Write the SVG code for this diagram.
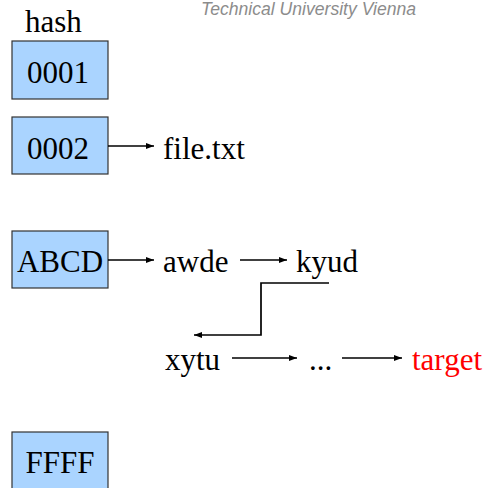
<svg xmlns="http://www.w3.org/2000/svg" width="488" height="488" viewBox="0 0 488 488">
  <defs>
    <marker id="arrow" viewBox="0 0 8 6" refX="8" refY="3" markerWidth="8" markerHeight="6" markerUnits="userSpaceOnUse" orient="auto">
      <path d="M0,0 L8,3 L0,6 Z" fill="#000"/>
    </marker>
    <style>
      .box { fill: #aad4ff; stroke: #333; stroke-width: 1.2; }
      .lbl { font-family: "Liberation Serif", "Times New Roman", serif; font-size: 31px; fill: #000; }
      .conn { fill: none; stroke: #000; stroke-width: 1.7; marker-end: url(#arrow); }
      .header { font-family: "Liberation Sans", Arial, sans-serif; font-style: italic; font-size: 17.6px; fill: #8c8c8c; }
    </style>
  </defs>

  <rect width="488" height="488" fill="#fff"/>

  <text class="header" x="201" y="15">Technical University Vienna</text>
  <text class="lbl" x="25" y="31.5">hash</text>

  <!-- hash buckets -->
  <g id="bucket-0001">
    <rect class="box" x="12" y="41" width="96" height="58"/>
    <text class="lbl" x="58" y="83" text-anchor="middle">0001</text>
  </g>
  <g id="bucket-0002">
    <rect class="box" x="12" y="117" width="96" height="57"/>
    <text class="lbl" x="58" y="159" text-anchor="middle">0002</text>
  </g>
  <g id="bucket-abcd">
    <rect class="box" x="12" y="231" width="96" height="57"/>
    <text class="lbl" x="60" y="271.5" text-anchor="middle">ABCD</text>
  </g>
  <g id="bucket-ffff">
    <rect class="box" x="12" y="432" width="96" height="60"/>
    <text class="lbl" x="60" y="473" text-anchor="middle">FFFF</text>
  </g>

  <!-- chain entries -->
  <g id="file-txt"><text class="lbl" x="163" y="159">file.txt</text></g>
  <g id="awde"><text class="lbl" x="163" y="271.5">awde</text></g>
  <g id="kyud"><text class="lbl" x="296" y="271.5">kyud</text></g>
  <g id="xytu"><text class="lbl" x="165" y="370">xytu</text></g>
  <g id="ellipsis"><text class="lbl" x="309" y="370">...</text></g>
  <g id="target"><text class="lbl" x="412" y="370" style="fill:#ff0000">target</text></g>

  <!-- connectors -->
  <g id="connectors">
    <path class="conn" d="M108,146 H154"/>
    <path class="conn" d="M108,260 H154"/>
    <path class="conn" d="M240,260 H287"/>
    <path class="conn" d="M329,283 H261 V335 H194"/>
    <path class="conn" d="M232,358 H297"/>
    <path class="conn" d="M342,358 H402"/>
  </g>
</svg>
